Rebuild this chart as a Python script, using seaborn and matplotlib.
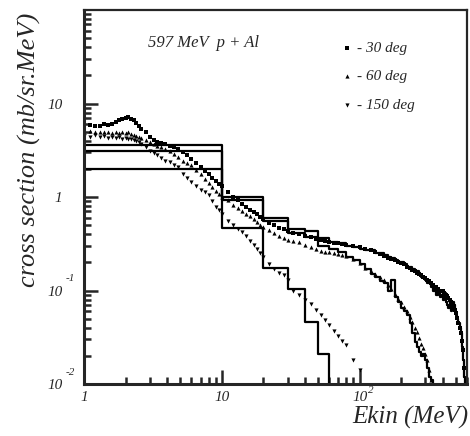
import numpy as np
import pandas as pd
import matplotlib
matplotlib.use('Agg')
import matplotlib.pyplot as plt
import seaborn as sns
from matplotlib.ticker import LogLocator, NullFormatter

# measured double-differential spectra (markers)
energy = [1.0, 1.1, 1.2, 1.3, 1.4, 1.5, 1.6, 1.7, 1.8, 1.9, 2.0, 2.1, 2.2, 2.3, 2.4, 2.5,
          2.6, 2.8, 3.0, 3.2, 3.4, 3.6, 3.9, 4.2, 4.5, 4.8, 5.2, 5.6, 6.0, 6.5, 7.0, 7.5,
          8.0, 8.5, 9.0, 9.5, 10, 11, 12, 13, 14, 15, 16, 17, 18, 19, 20, 22, 24, 26, 28,
          30, 33, 36, 40, 44, 48, 52, 56, 60, 65, 70, 75, 80, 90, 100, 110, 120, 130, 140,
          150, 160, 170, 180, 190, 200, 210, 220, 230, 240, 250, 260, 270, 280, 290, 300,
          310, 320, 330, 340, 350, 360, 370, 380, 390, 400, 410, 420, 430, 440, 450, 460,
          470, 480, 490, 500, 510, 520, 530, 540, 550, 560, 570]

xs_30 = [5.6, 5.9, 5.7, 5.8, 6.0, 5.9, 6.1, 6.3, 6.6, 6.9, 7.0, 7.1, 6.9, 6.6, 6.2, 5.8,
         5.4, 4.9, 4.4, 4.1, 3.9, 3.8, 3.7, 3.55, 3.45, 3.3, 3.0, 2.8, 2.55, 2.3, 2.1, 1.9,
         1.75, 1.6, 1.48, 1.38, 1.3, 1.12, 1.0, 0.92, 0.84, 0.78, 0.73, 0.69, 0.65, 0.61,
         0.58, 0.53, 0.50, 0.47, 0.45, 0.43, 0.41, 0.40, 0.38, 0.37, 0.355, 0.345, 0.335,
         0.33, 0.325, 0.32, 0.315, 0.31, 0.30, 0.29, 0.28, 0.27, 0.255, 0.245, 0.235, 0.225,
         0.215, 0.21, 0.20, 0.195, 0.19, 0.18, 0.175, 0.165, 0.16, 0.155, 0.15, 0.145, 0.14,
         0.135, 0.13, 0.125, 0.12, 0.115, 0.11, 0.11, 0.105, 0.10, 0.10, 0.10, 0.095, 0.09,
         0.087, 0.083, 0.08, 0.075, 0.071, 0.066, 0.062, 0.057, 0.051, 0.045, 0.04, 0.035,
         0.029, 0.023, 0.015]

xs_60 = [5.0, 5.1, 4.9, 5.0, 4.9, 5.0, 4.8, 4.9, 4.8, 4.9, 4.8, 4.9, 4.7, 4.6, 4.5, 4.4,
         4.3, 4.1, 3.9, 3.7, 3.5, 3.4, 3.25, 3.1, 2.85, 2.65, 2.45, 2.3, 2.2, 1.95, 1.75,
         1.55, 1.4, 1.28, 1.17, 1.08, 1.0, 0.93, 0.82, 0.76, 0.71, 0.66, 0.63, 0.58, 0.54,
         0.50, 0.48, 0.44, 0.41, 0.38, 0.36, 0.35, 0.34, 0.33, 0.31, 0.29, 0.275, 0.265,
         0.26, 0.255, 0.25, 0.245, 0.24, 0.235, 0.215, 0.195, 0.175, 0.16, 0.15, 0.14, 0.13,
         0.115, 0.105, 0.092, 0.082, 0.075, 0.066, 0.06, 0.052, 0.046, 0.04, 0.036, 0.031,
         0.027, 0.024, 0.021, 0.018, 0.014, 0.011]

xs_150 = [4.5, 4.4, 4.6, 4.4, 4.5, 4.3, 4.4, 4.3, 4.4, 4.2, 4.3, 4.2, 4.2, 4.1, 4.0, 3.9,
          3.7, 3.4, 3.1, 2.95, 2.8, 2.6, 2.45, 2.35, 2.2, 2.1, 1.75, 1.6, 1.45, 1.32, 1.19,
          1.12, 1.05, 0.9, 0.79, 0.72, 0.65, 0.56, 0.5, 0.45, 0.42, 0.38, 0.34, 0.31, 0.28,
          0.25, 0.23, 0.19, 0.17, 0.155, 0.145, 0.13, 0.10, 0.09, 0.08, 0.072, 0.062, 0.055,
          0.048, 0.043, 0.037, 0.033, 0.029, 0.026, 0.018, 0.0142]

# simulated spectra (histograms): first bin 1-10 MeV, then 10 MeV wide bins
bin_edges = [1] + list(range(10, 590, 10))
h_30 = [3.6, 1.0, 0.60, 0.46, 0.43, 0.36, 0.33, 0.32, 0.30, 0.29, 0.28, 0.27, 0.27, 0.25,
        0.25, 0.24, 0.23, 0.22, 0.21, 0.20, 0.20, 0.19, 0.18, 0.18, 0.17, 0.16, 0.16, 0.15,
        0.14, 0.135, 0.13, 0.12, 0.12, 0.11, 0.10, 0.11, 0.09, 0.10, 0.085, 0.09, 0.08,
        0.095, 0.075, 0.07, 0.065, 0.08, 0.06, 0.075, 0.07, 0.06, 0.055, 0.05, 0.045, 0.04,
        0.035, 0.025, 0.018, 0.012]
h_60 = [3.1, 0.93, 0.55, 0.41, 0.37, 0.30, 0.28, 0.26, 0.23, 0.21, 0.19, 0.17, 0.15, 0.14,
        0.125, 0.12, 0.10, 0.13, 0.085, 0.075, 0.065, 0.06, 0.055, 0.045, 0.035, 0.028,
        0.025, 0.022, 0.02, 0.021, 0.018, 0.015, 0.012, 0.011]
h_150 = [2.0, 0.47, 0.176, 0.105, 0.046, 0.021]

# axis labels: base part and exponent
x_ticks = [1, 10, 100]
x_base = ['1', '10', '10']
x_exp = ['', '', '2']
y_ticks = [0.01, 0.1, 1, 10]
y_base = ['10', '10', '1', '10']
y_exp = ['-2', '-1', '', '']

sns.set_style('ticks')
plt.rcParams['font.family'] = ['Liberation Serif', 'DejaVu Serif']
plt.rcParams['font.style'] = 'italic'

fig = plt.figure(figsize=(4.7, 4.36), dpi=100)
ax = fig.add_axes([84 / 470, 1 - 384 / 436, 383 / 470, 374 / 436])

# histograms as step lines
for h in [h_30, h_60, h_150]:
    n = len(h)
    hist_df = pd.DataFrame({'E': bin_edges[:n + 1], 'y': h + [1e-4]})
    sns.lineplot(data=hist_df, x='E', y='y', drawstyle='steps-post', estimator=None,
                 color='black', lw=1.6, ax=ax)

# data points
sns.scatterplot(x=energy[:len(xs_30)], y=xs_30, marker='s', s=7, color='black',
                linewidth=0, ax=ax, label='- 30 deg')
sns.scatterplot(x=energy[:len(xs_60)], y=xs_60, marker='^', s=9, color='black',
                linewidth=0, ax=ax, label='- 60 deg')
sns.scatterplot(x=energy[:len(xs_150)], y=xs_150, marker='v', s=9, color='black',
                linewidth=0, ax=ax, label='- 150 deg')

ax.set_xscale('log')
ax.set_yscale('log')
ax.set_xlim(1, 600)
ax.set_ylim(0.01, 100)

ax.set_xticks(x_ticks)
ax.set_xticklabels(x_base)
ax.set_yticks(y_ticks)
ax.set_yticklabels(y_base)
ax.xaxis.set_minor_locator(LogLocator(base=10, subs=np.arange(2, 10)))
ax.yaxis.set_minor_locator(LogLocator(base=10, subs=np.arange(2, 10)))
ax.xaxis.set_minor_formatter(NullFormatter())
ax.yaxis.set_minor_formatter(NullFormatter())
ax.tick_params(which='both', direction='in', top=False, right=False, width=1.8,
               labelsize=11)
ax.tick_params(which='major', length=10)
ax.tick_params(which='minor', length=5)
ax.tick_params(axis='x', pad=5)
ax.tick_params(axis='y', pad=15.5)

# exponents drawn next to the tick labels
for t, e in zip(x_ticks, x_exp):
    if e:
        ax.annotate(e, xy=(t, 0), xycoords=('data', 'axes fraction'), xytext=(6, -4.5),
                    textcoords='offset points', fontsize=8, ha='left', va='center')
for t, e in zip(y_ticks, y_exp):
    if e:
        ax.annotate(e, xy=(0, t), xycoords=('axes fraction', 'data'), xytext=(-13, 8.5),
                    textcoords='offset points', fontsize=8, ha='left', va='center')

for side in ['left', 'bottom']:
    ax.spines[side].set_linewidth(2.2)
for side in ['top', 'right']:
    ax.spines[side].set_linewidth(1.6)

ax.set_xlabel('Ekin (MeV)', fontsize=18, ha='right')
ax.xaxis.set_label_coords(1.003, -0.058)
ax.set_ylabel('cross section (mb/sr.MeV)', fontsize=19)
ax.yaxis.set_label_coords(-0.112, 0.626)

ax.text(0.167, 0.912, '597 MeV  p + Al', transform=ax.transAxes, fontsize=12,
        va='center', ha='left')

ax.legend(loc='upper left', bbox_to_anchor=(0.675, 0.917), frameon=False, fontsize=11,
          handlelength=0.6, handletextpad=0.35, borderpad=0, borderaxespad=0,
          labelspacing=0.97, markerscale=1.0)

fig.savefig('out.png', dpi=100)
